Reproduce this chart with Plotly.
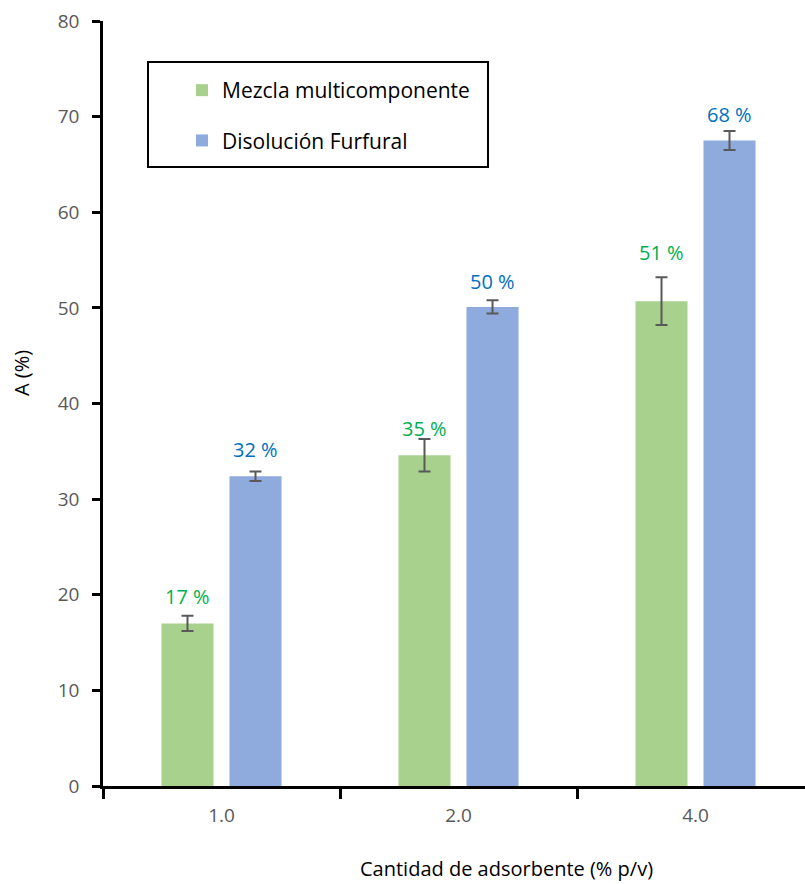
import plotly.graph_objects as go

categories = ["1.0", "2.0", "4.0"]
mezcla = [17.0, 34.6, 50.7]
mezcla_err = [0.8, 1.7, 2.5]
furfural = [32.4, 50.1, 67.5]
furfural_err = [0.5, 0.7, 1.0]
mezcla_labels = ["17 %", "35 %", "51 %"]
furfural_labels = ["32 %", "50 %", "68 %"]
y_ticks = [0, 10, 20, 30, 40, 50, 60, 70, 80]
x_title = "Cantidad de adsorbente (% p/v)"
y_title = "A (%)"

FONT = "Open Sans"
GREEN = "#A9D18E"
BLUE = "#8FAADC"

# plot-area geometry in pixels (used to convert to paper coords)
PL, PT, PW, PH = 103, 21, 702, 765


def px_x(x):
    return (x - PL) / PW


def px_y(y):
    return (PT + PH - y) / PH


fig = go.Figure()
fig.add_trace(go.Bar(
    x=categories, y=mezcla, name="Mezcla multicomponente",
    marker=dict(color=GREEN, line=dict(width=0)),
    error_y=dict(type="data", array=mezcla_err, color="#595959", thickness=2, width=6),
    legendgroup="a",
))
fig.add_trace(go.Bar(
    x=categories, y=furfural, name="Disolución Furfural",
    marker=dict(color=BLUE, line=dict(width=0)),
    error_y=dict(type="data", array=furfural_err, color="#595959", thickness=2, width=6),
    legendgroup="b",
))

green_shift = [27, 27, 49]
blue_shift = [27, 25, 26]
for i, c in enumerate(categories):
    fig.add_annotation(x=i, y=mezcla[i], xref="x", yref="y", text=mezcla_labels[i],
                       showarrow=False, xshift=-34, yshift=green_shift[i],
                       font=dict(family=FONT, size=20, color="#00B050"))
    fig.add_annotation(x=i, y=furfural[i], xref="x", yref="y", text=furfural_labels[i],
                       showarrow=False, xshift=34, yshift=blue_shift[i],
                       font=dict(family=FONT, size=20, color="#0070C0"))

# axis titles
fig.add_annotation(x=px_x(506), y=px_y(868), xref="paper", yref="paper", text=x_title,
                   showarrow=False, xanchor="center", yanchor="middle",
                   font=dict(family=FONT, size=20, color="black"))
fig.add_annotation(x=px_x(21), y=px_y(373), xref="paper", yref="paper", text=y_title,
                   showarrow=False, xanchor="center", yanchor="middle", textangle=-90,
                   font=dict(family=FONT, size=20, color="black"))

# legend box
fig.add_shape(type="rect", xref="paper", yref="paper",
              x0=px_x(148), x1=px_x(488), y0=px_y(167), y1=px_y(62),
              line=dict(color="black", width=2), fillcolor="rgba(0,0,0,0)")

fig.update_layout(
    width=805, height=884,
    margin=dict(l=PL, r=0, t=PT, b=884 - PT - PH),
    plot_bgcolor="white", paper_bgcolor="white",
    barmode="group", bargap=0.426, bargroupgap=0.235,
    font=dict(family=FONT, size=19, color="#595959"),
    showlegend=True,
    legend=dict(x=px_x(182), y=px_y(70), xanchor="left", yanchor="top",
                bgcolor="rgba(0,0,0,0)", borderwidth=0, tracegroupgap=20,
                font=dict(family=FONT, size=21, color="black"), traceorder="grouped"),
    xaxis=dict(type="category", range=[-0.5, 2.462], showline=True, linecolor="black",
               linewidth=2.5, ticks="outside", tickson="boundaries", ticklen=10,
               tickwidth=2.5, tickcolor="black", showgrid=False, automargin=False,
               ticklabelstandoff=10,
               tickfont=dict(family=FONT, size=19, color="#595959")),
    yaxis=dict(range=[0, 80], tickvals=y_ticks, showline=True, linecolor="black",
               linewidth=2.5, ticks="outside", ticklen=8, tickwidth=2.5, tickcolor="black",
               showgrid=False, zeroline=False, automargin=False,
               ticklabelstandoff=9,
               tickfont=dict(family=FONT, size=19, color="#595959")),
)

fig.write_html("out.html", config={"displayModeBar": False},
               post_script="document.body.style.margin='0';")
